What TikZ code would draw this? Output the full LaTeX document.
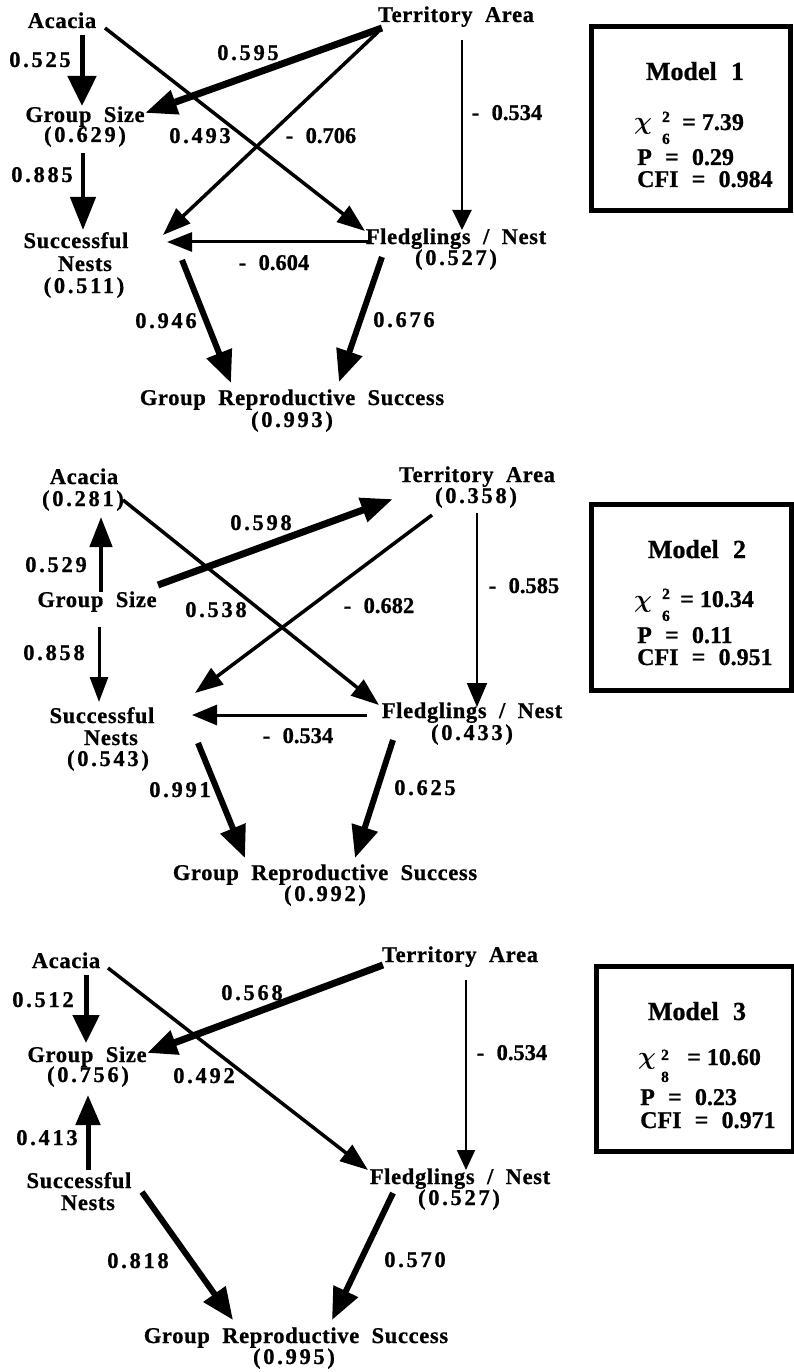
\documentclass[tikz,border=0pt]{standalone}
\usepackage{fontspec}
\setmainfont{Liberation Serif}
\newfontfamily\wf{Liberation Serif}[LetterSpace=3,BoldFeatures={FakeBold=0.8}]
\newfontfamily\nf{Liberation Serif}[LetterSpace=12,BoldFeatures={FakeBold=0.8}]
\newfontfamily\pf{Liberation Serif}[BoldFeatures={FakeBold=0.8}]
\usetikzlibrary{arrows.meta}
\newcommand\wsp{\hspace{0.55em}}
\begin{document}
\begin{tikzpicture}[x=1pt,y=-1pt,
 lbl/.style={anchor=base,inner sep=0pt,font=\wf\bfseries\fontsize{22.5}{22}\selectfont},
 num/.style={anchor=base,inner sep=0pt,font=\nf\bfseries\fontsize{22.5}{22}\selectfont},
 pln/.style={anchor=base,inner sep=0pt,font=\pf\bfseries\fontsize{22.5}{22}\selectfont},
 boxt/.style={anchor=base west,inner sep=0pt,font=\pf\bfseries\fontsize{24}{24}\selectfont},
 chis/.style={anchor=base west,inner sep=0pt,font=\boldmath\fontsize{24}{24}\selectfont},
 ttl/.style={anchor=base,inner sep=0pt,font=\pf\bfseries\fontsize{26}{26}\selectfont},
 idx/.style={anchor=north,inner sep=0pt,align=center,font=\pf\bfseries\fontsize{15.5}{22}\selectfont},
 mbox/.style={draw,line width=5pt,inner sep=0pt},
 ar/.style n args={3}{line width=#1pt,-{Triangle[length=#2pt,width=#3pt]}}
]
\fill[white] (0,0) rectangle (794,1372);
\useasboundingbox (0,0) rectangle (794,1372);

% ================= Model 1 =================
\node[lbl] (ac1) at (62,28) {Acacia};
\node[lbl] (ta1) at (456,22) {Territory\wsp Area};
\node[lbl] (gs1) at (85,122) {Group\wsp Size};
\node[num] (gs1v) at (85,142) {(0.629)};
\node[lbl] (sn1) at (76,248) {Successful};
\node[lbl] (sn1b) at (85,271) {Nests};
\node[num] (sn1v) at (84,293) {(0.511)};
\node[lbl] (fn1) at (456,244) {Fledglings\wsp /\wsp Nest};
\node[num] (fn1v) at (456,265) {(0.527)};
\node[lbl] (gr1) at (292,405) {Group\wsp Reproductive\wsp Success};
\node[num] (gr1v) at (292,427) {(0.993)};

\node[num] (l1a) at (40,67) {0.525};
\node[num] (l1b) at (42,182) {0.885};
\node[num] (l1c) at (248,60) {0.595};
\node[num] (l1d) at (200,143) {0.493};
\node[pln] (l1e) at (321,143) {-\wsp 0.706};
\node[pln] (l1f) at (507,120) {-\wsp 0.534};
\node[pln] (l1g) at (274,270) {-\wsp 0.604};
\node[num] (l1h) at (166,328) {0.946};
\node[num] (l1i) at (404,327) {0.676};

\draw[ar={5}{30}{28}] ([shift={(20,7)}]ac1.base) -- ([shift={(-3,-16)}]gs1.base);
\draw[ar={4.5}{33}{25}] ([shift={(-2,11)}]gs1v.base) -- ([shift={(7,-18)}]sn1.base);
\draw[ar={3.5}{28}{20}] ([shift={(43,0)}]ac1.base) -- ([shift={(-91,-13)}]fn1.base);
\draw[ar={7}{32}{24}] ([shift={(-74,6)}]ta1.base) -- ([shift={(60,-9)}]gs1.base);
\draw[ar={3}{25}{19}] ([shift={(-86,-2)}]fn1.base) -- ([shift={(91,-6)}]sn1.base);
\draw[ar={3.5}{28}{20}] ([shift={(-78,10)}]ta1.base) -- ([shift={(87,-13)}]sn1.base);
\draw[ar={2}{20}{19}] ([shift={(6,18)}]ta1.base) -- ([shift={(6,-14)}]fn1.base);
\draw[ar={6}{32}{26}] ([shift={(106,12)}]sn1.base) -- ([shift={(-61,-22)}]gr1.base);
\draw[ar={6}{32}{26}] ([shift={(-74,13)}]fn1.base) -- ([shift={(47,-23)}]gr1.base);

\node[mbox, minimum width=199pt, minimum height=184pt] (bx1) at (690.5,119) {};
\node[ttl] (t1) at (695,80) {Model\wsp 1};
\node[chis] (chi1) at (634,130) {$\chi$};
\node[idx] (chi1i) at (666,111.5) {2\\6};
\node[boxt] (v1a) at (682,130) {= 7.39};
\node[boxt] (v1b) at (637,165) {P\wsp =\wsp 0.29};
\node[boxt] (v1c) at (637,187) {CFI\wsp =\wsp 0.984};

% ================= Model 2 =================
\node[lbl] (ac2) at (84,484) {Acacia};
\node[num] (ac2v) at (83,506) {(0.281)};
\node[lbl] (ta2) at (477,482) {Territory\wsp Area};
\node[num] (ta2v) at (476,503) {(0.358)};
\node[lbl] (gs2) at (97,607) {Group\wsp Size};
\node[lbl] (sn2) at (102,723) {Successful};
\node[lbl] (sn2b) at (111,745) {Nests};
\node[num] (sn2v) at (108,766) {(0.543)};
\node[lbl] (fn2) at (472,718) {Fledglings\wsp /\wsp Nest};
\node[num] (fn2v) at (472,740) {(0.433)};
\node[lbl] (gr2) at (325,880) {Group\wsp Reproductive\wsp Success};
\node[num] (gr2v) at (325,901) {(0.992)};

\node[num] (l2a) at (261,530) {0.598};
\node[num] (l2b) at (56,572) {0.529};
\node[num] (l2c) at (216,617) {0.538};
\node[pln] (l2d) at (379,613) {-\wsp 0.682};
\node[pln] (l2e) at (524,593) {-\wsp 0.585};
\node[num] (l2f) at (54,660) {0.858};
\node[pln] (l2g) at (298,743) {-\wsp 0.534};
\node[num] (l2h) at (180,797) {0.991};
\node[num] (l2i) at (425,795) {0.625};

\draw[ar={4.5}{30}{22}] ([shift={(4,-15)}]gs2.base) -- ([shift={(18,11)}]ac2v.base);
\draw[ar={3}{25}{18}] ([shift={(2,20)}]gs2.base) -- ([shift={(-3,-21)}]sn2.base);
\draw[ar={3.5}{28}{20}] ([shift={(40,-6)}]ac2v.base) -- ([shift={(-93,-13)}]fn2.base);
\draw[ar={7}{32}{24}] ([shift={(61,-22)}]gs2.base) -- ([shift={(-84,17)}]ta2.base);
\draw[ar={3}{25}{20}] ([shift={(-105,-3)}]fn2.base) -- ([shift={(90,-8)}]sn2.base);
\draw[ar={3.5}{28}{20}] ([shift={(-44,12)}]ta2v.base) -- ([shift={(93,-30)}]sn2.base);
\draw[ar={2}{24}{20}] ([shift={(1,10)}]ta2v.base) -- ([shift={(5,-11)}]fn2.base);
\draw[ar={6}{32}{26}] ([shift={(96,20)}]sn2.base) -- ([shift={(-80,-22)}]gr2.base);
\draw[ar={6}{32}{26}] ([shift={(-79,22)}]fn2.base) -- ([shift={(30,-22)}]gr2.base);

\node[mbox, minimum width=200pt, minimum height=186pt] (bx2) at (691,597) {};
\node[ttl] (t2) at (697,558) {Model\wsp 2};
\node[chis] (chi2) at (634,607) {$\chi$};
\node[idx] (chi2i) at (666,588.5) {2\\6};
\node[boxt] (v2a) at (680,607) {= 10.34};
\node[boxt] (v2b) at (637,643) {P\wsp =\wsp 0.11};
\node[boxt] (v2c) at (637,665) {CFI\wsp =\wsp 0.951};

% ================= Model 3 =================
\node[lbl] (ac3) at (66,968) {Acacia};
\node[lbl] (ta3) at (460,962) {Territory\wsp Area};
\node[lbl] (gs3) at (87,1062) {Group\wsp Size};
\node[num] (gs3v) at (88,1082) {(0.756)};
\node[lbl] (sn3) at (79,1188) {Successful};
\node[lbl] (sn3b) at (88,1210) {Nests};
\node[lbl] (fn3) at (460,1184) {Fledglings\wsp /\wsp Nest};
\node[num] (fn3v) at (459,1205) {(0.527)};
\node[lbl] (gr3) at (296,1343) {Group\wsp Reproductive\wsp Success};
\node[num] (gr3v) at (294,1364) {(0.995)};

\node[num] (l3a) at (43,1007) {0.512};
\node[num] (l3b) at (252,1000) {0.568};
\node[num] (l3c) at (204,1083) {0.492};
\node[pln] (l3d) at (512,1060) {-\wsp 0.534};
\node[num] (l3e) at (47,1145) {0.413};
\node[num] (l3f) at (138,1268) {0.818};
\node[num] (l3g) at (415,1267) {0.570};

\draw[ar={5}{28}{26}] ([shift={(20,7)}]ac3.base) -- ([shift={(-1,-19)}]gs3.base);
\draw[ar={3.5}{28}{20}] ([shift={(42,0)}]ac3.base) -- ([shift={(-92,-14)}]fn3.base);
\draw[ar={7}{30}{24}] ([shift={(-77,3)}]ta3.base) -- ([shift={(60,-9)}]gs3.base);
\draw[ar={5}{30}{24}] ([shift={(9,-18)}]sn3.base) -- ([shift={(0,13)}]gs3v.base);
\draw[ar={2}{20}{18}] ([shift={(6,18)}]ta3.base) -- ([shift={(6,-14)}]fn3.base);
\draw[ar={6}{32}{26}] ([shift={(63,4)}]sn3.base) -- ([shift={(-63,-23)}]gr3.base);
\draw[ar={6}{32}{26}] ([shift={(-67,9)}]fn3.base) -- ([shift={(36,-23)}]gr3.base);

\node[mbox, minimum width=197pt, minimum height=185pt] (bx3) at (694.5,1058.5) {};
\node[ttl] (t3) at (697,1020) {Model\wsp 3};
\node[chis] (chi3) at (638,1064) {$\chi$};
\node[idx] (chi3i) at (665,1049.5) {2\\8};
\node[boxt] (v3a) at (687,1065) {= 10.60};
\node[boxt] (v3b) at (640,1105) {P\wsp =\wsp 0.23};
\node[boxt] (v3c) at (640,1128) {CFI\wsp =\wsp 0.971};
\end{tikzpicture}
\end{document}
